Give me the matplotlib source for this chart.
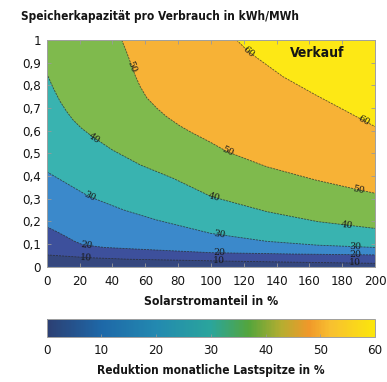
import numpy as np
import matplotlib
matplotlib.use("Agg")
import matplotlib.pyplot as plt
from matplotlib.colors import LinearSegmentedColormap, Normalize
from matplotlib.cm import ScalarMappable

# ---- data: contour lines (x = Solarstromanteil %, y = kWh/MWh)
levels = [10, 20, 30, 40, 50, 60]
c10_x = [0, 25, 50, 100, 150, 200]
c10_y = [0.052, 0.040, 0.033, 0.026, 0.020, 0.015]
c20_x = [0, 6, 12, 17, 22, 35, 57, 100, 150, 200]
c20_y = [0.176, 0.155, 0.132, 0.112, 0.097, 0.085, 0.077, 0.062, 0.056, 0.052]
c30_x = [0, 12, 26, 47, 67, 100, 134, 165, 200]
c30_y = [0.419, 0.368, 0.309, 0.250, 0.206, 0.147, 0.112, 0.095, 0.085]
c40_x = [0, 4, 8, 12, 16, 21, 28, 40, 57, 77, 100, 134, 165, 200]
c40_y = [0.853, 0.788, 0.731, 0.686, 0.648, 0.612, 0.573, 0.515, 0.449, 0.390, 0.310,
         0.243, 0.199, 0.169]
c50_x = [45.7, 48.5, 52, 54, 57, 61, 67, 73, 81, 88, 100, 110, 134, 164, 189, 200]
c50_y = [1.0, 0.950, 0.882, 0.842, 0.794, 0.745, 0.700, 0.662, 0.622, 0.593, 0.548,
         0.507, 0.441, 0.382, 0.341, 0.324]
c60_x = [115.7, 123, 144, 164, 183, 193, 200]
c60_y = [1.0, 0.948, 0.838, 0.757, 0.684, 0.645, 0.618]
curves_x = [c10_x, c20_x, c30_x, c40_x, c50_x, c60_x]
curves_y = [c10_y, c20_y, c30_y, c40_y, c50_y, c60_y]
# label x-positions on each contour line
label_x = {10: [24, 105, 188], 20: [24, 105, 188], 30: [26, 105, 188],
           40: [29, 102, 183], 50: [52, 110, 190], 60: [123, 193]}

x_ticks = [0, 20, 40, 60, 80, 100, 120, 140, 160, 180, 200]
y_ticks = [0, 0.1, 0.2, 0.3, 0.4, 0.5, 0.6, 0.7, 0.8, 0.9, 1]
y_ticklabels = ["0", "0,1", "0,2", "0,3", "0,4", "0,5", "0,6", "0,7", "0,8", "0,9", "1"]
cb_ticks = [0, 10, 20, 30, 40, 50, 60]

band_colors = ['#35477e', '#3d509c', '#3b89cb', '#39b3b0', '#7fba4d', '#f7b236', '#fde815']
cmap_pos = [0, 10/60, 20/60, 30/60, 37/60, 43/60, 48/60, 52/60, 1]
cmap_col = ['#2c3f73', '#1e68a8', '#2389b0', '#2aa59c', '#54a53c', '#b6ad30',
            '#f0982a', '#f8c030', '#fbe60c']

plt.rcParams['font.family'] = ['DejaVu Sans']
plt.rcParams['font.stretch'] = 'condensed'
TXT = '#151515'

fig = plt.figure(figsize=(3.87, 3.82), dpi=100)
fig.patch.set_facecolor('white')
W, H = 387, 382
ax = fig.add_axes([46.7 / W, 1 - 266.7 / H, (375 - 46.7) / W, (266.7 - 40) / H])
ax.set_xlim(0, 200)
ax.set_ylim(0, 1)

# background = highest band
ax.add_patch(plt.Rectangle((0, 0), 200, 1, facecolor=band_colors[-1], edgecolor='none', zorder=0))
# layered fills: region below each contour gets the colour of the band below that level
for k in range(len(levels) - 1, -1, -1):
    xs = list(curves_x[k])
    ys = list(curves_y[k])
    px = xs + [200, 0]
    py = ys + [0, 0]
    if ys[0] >= 1.0:
        px.append(0)
        py.append(1)
    ax.fill(px, py, facecolor=band_colors[k], edgecolor='none', zorder=1)
    ax.plot(xs, ys, color='#2a2a2a', lw=0.6, ls=(0, (2.5, 1.2)), alpha=0.75, zorder=2)

# labels
for k, lv in enumerate(levels):
    xs = np.asarray(curves_x[k], float)
    ys = np.asarray(curves_y[k], float)
    for lx in label_x[lv]:
        ly = np.interp(lx, xs, ys)
        p1 = ax.transData.transform((lx - 2, np.interp(lx - 2, xs, ys)))
        p2 = ax.transData.transform((lx + 2, np.interp(lx + 2, xs, ys)))
        ang = np.degrees(np.arctan2(p2[1] - p1[1], p2[0] - p1[0]))
        ax.text(lx, ly, str(lv), fontsize=7.5, rotation=ang, rotation_mode='anchor',
                ha='center', va='center', color='#1a1a1a', zorder=3,
                family=['DejaVu Serif'], fontstretch='condensed')

ax.text(165, 0.943, 'Verkauf', fontsize=10, fontweight='bold', ha='center', va='center',
        color=TXT, zorder=4)

ax.set_xticks(x_ticks)
ax.set_xticklabels([str(v) for v in x_ticks])
ax.set_yticks(y_ticks)
ax.set_yticklabels(y_ticklabels)
ax.tick_params(direction='in', length=3, width=0.6, color='#9a9a9a', labelsize=9.5,
               top=True, right=True, labelcolor=TXT)
ax.tick_params(axis='x', pad=6)
ax.tick_params(axis='y', pad=4)
for s in ax.spines.values():
    s.set_color('#a0a0a0')
    s.set_linewidth(0.7)
ax.set_xlabel('Solarstromanteil in %', fontsize=8.8, fontweight='bold', labelpad=5, color=TXT)

fig.text(20.7 / W, 1 - 16.5 / H, 'Speicherkapazität pro Verbrauch in kWh/MWh', fontsize=8.6,
         fontweight='bold', ha='left', va='center', color=TXT)

# colorbar
cax = fig.add_axes([46.7 / W, 1 - 336.7 / H, (375 - 46.7) / W, 17.4 / H])
cmap = LinearSegmentedColormap.from_list('parula_like', list(zip(cmap_pos, cmap_col)))
sm = ScalarMappable(norm=Normalize(0, 60), cmap=cmap)
cb = fig.colorbar(sm, cax=cax, orientation='horizontal', ticks=cb_ticks)
cb.outline.set_edgecolor('#a0a0a0')
cb.outline.set_linewidth(0.7)
cax.tick_params(direction='in', length=2, width=0.5, color='#9a9a9a', labelsize=9.5, pad=5,
                labelcolor=TXT)
cb.set_label('Reduktion monatliche Lastspitze in %', fontsize=8.6, fontweight='bold',
             labelpad=5, color=TXT)

fig.savefig('out.png', dpi=100)
